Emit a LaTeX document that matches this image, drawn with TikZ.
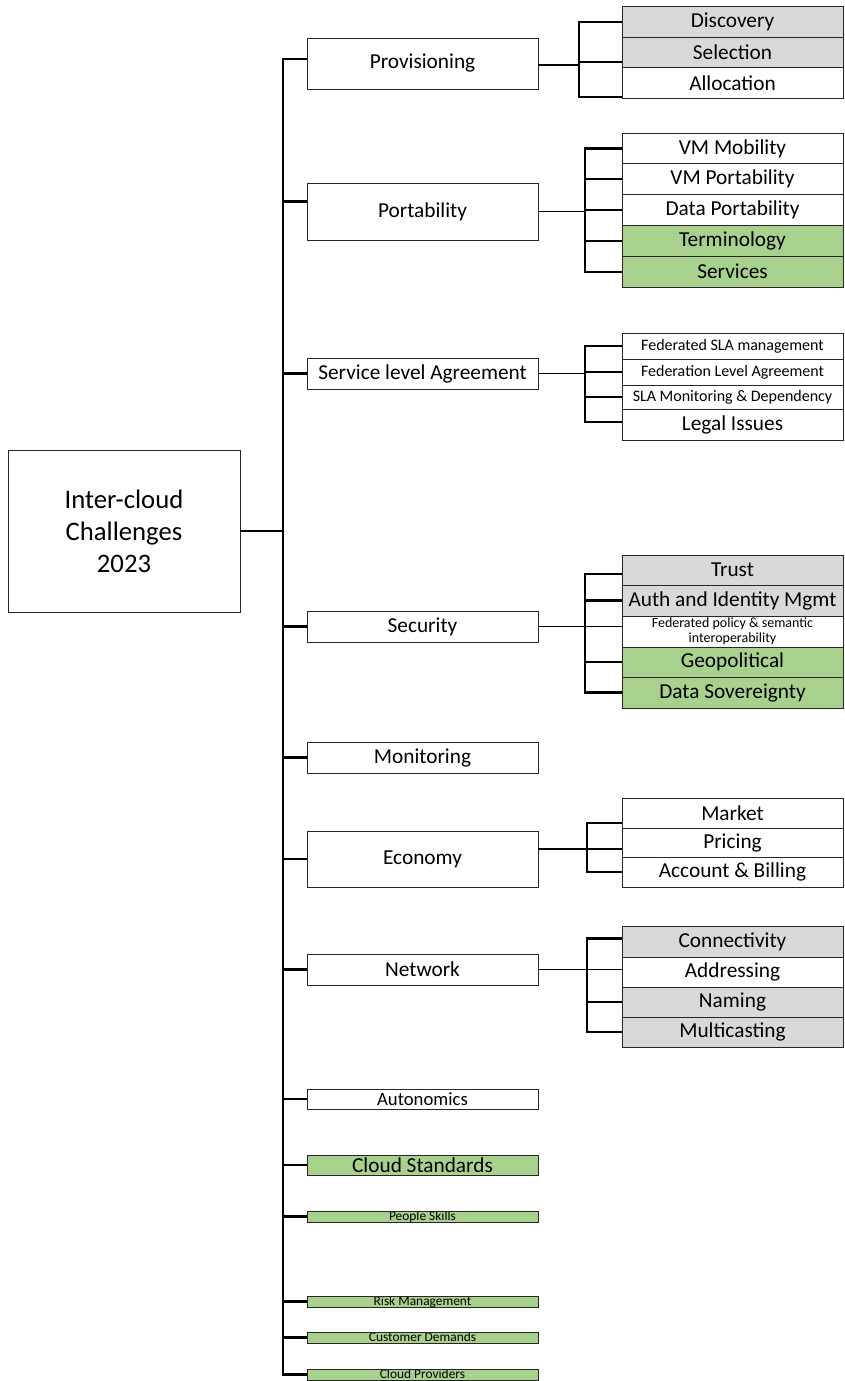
\documentclass[tikz,border=0pt]{standalone}
\usepackage{fontspec}
\setmainfont{Carlito}
\definecolor{cellgray}{HTML}{D9D9D9}
\definecolor{cellgreen}{HTML}{A9D18E}
\definecolor{edge}{HTML}{262626}

\begin{document}
\begin{tikzpicture}[x=1pt,y=-1pt,
  box/.style={draw=edge, line width=0.9pt, inner sep=0pt, rectangle, text=black, anchor=center},
  topic/.style={box, minimum width=231pt, minimum height=#1, font=\fontsize{21.3}{25}\selectfont},
  topic/.default=31pt,
  item/.style={box, minimum width=221pt, minimum height=#1, font=\fontsize{21.3}{25}\selectfont},
  item/.default=30.5pt,
  smallitem/.style={item=#1, font=\fontsize{16}{18}\selectfont},
  thin/.style={box, minimum width=231pt, minimum height=11pt, fill=cellgreen,
    path picture={\node[anchor=base, inner sep=0pt, font=\fontsize{13.4}{15}\selectfont]
      at ([yshift=1.2pt]path picture bounding box.south) {#1};}},
  grey/.style={fill=cellgray},
  green/.style={fill=cellgreen},
  stem/.style={draw=black, line width=2.2pt},
  link/.style={draw=black, line width=1.3pt},
]
\useasboundingbox (0,0) rectangle (844,1381);

% root
\node[box, minimum width=232pt, minimum height=162pt, align=center,
      font=\fontsize{26.7}{32}\selectfont] (root) at (124,531)
      {Inter-cloud\\Challenges\\2023};

% first-level topics
\node[topic=51pt] (prov) at (422.5,63.5) {Provisioning};
\node[topic=57pt] (port) at (422.5,211.5) {Portability};
\node[topic] (sla) at (422.5,373.5) {Service level Agreement};
\node[topic] (sec) at (422.5,626.5) {Security};
\node[topic] (mon) at (422.5,757.5) {Monitoring};
\node[topic=56pt] (eco) at (422.5,859) {Economy};
\node[topic] (net) at (422.5,969.5) {Network};
\node[topic=20pt, font=\fontsize{18.7}{20}\selectfont] (auto) at (422.5,1099) {Autonomics};
\node[topic=20pt, green] (std) at (422.5,1165) {Cloud Standards};
\node[thin=People Skills] (ppl) at (422.5,1216.5) {};
\node[thin=Risk Management] (risk) at (422.5,1301.5) {};
\node[thin=Customer Demands] (cust) at (422.5,1337.5) {};
\node[thin=Cloud Providers] (cprov) at (422.5,1374.5) {};

% second-level items
\node[item, grey] (disc) at (732.5,21.75) {Discovery};
\node[item, grey] (sel)  at (732.5,52.25) {Selection};
\node[item]       (alloc) at (732.5,82.75) {Allocation};

\node[item=30.8pt] (vmm) at (732.5,148.4) {VM Mobility};
\node[item=30.8pt] (vmp) at (732.5,179.2) {VM Portability};
\node[item=30.8pt] (dp)  at (732.5,210) {Data Portability};
\node[item=30.8pt, green] (term) at (732.5,240.8) {Terminology};
\node[item=30.8pt, green] (serv) at (732.5,271.6) {Services};

\node[smallitem=26pt] (fsla) at (732.5,346) {Federated SLA management};
\node[smallitem=26pt] (fla)  at (732.5,372) {Federation Level Agreement};
\node[smallitem=24pt] (slam) at (732.5,397) {SLA Monitoring \& Dependency};
\node[item=31pt] (legal) at (732.5,424.5) {Legal Issues};

\node[item=30pt, grey] (trust) at (732.5,570) {Trust};
\node[item=31pt, grey] (auth) at (732.5,600.5) {Auth and Identity Mgmt};
\node[item=31pt, align=center, font=\fontsize{14}{15}\selectfont] (fed) at (732.5,631.5)
      {Federated policy \& semantic\\interoperability};
\node[item=30pt, green] (geo) at (732.5,662) {Geopolitical};
\node[item=31pt, green] (dsov) at (732.5,692.5) {Data Sovereignty};

\node[item=30pt] (mkt) at (732.5,813) {Market};
\node[item=29pt] (price) at (732.5,842.5) {Pricing};
\node[item=30pt] (acct) at (732.5,872) {Account \& Billing};

\node[item=31pt, grey] (conn) at (732.5,941.5) {Connectivity};
\node[item=30pt] (addr) at (732.5,972) {Addressing};
\node[item=30pt, grey] (name) at (732.5,1002) {Naming};
\node[item=30pt, grey] (mcast) at (732.5,1032) {Multicasting};

% trunk
\coordinate (ttop) at (283,59);
\coordinate (tbot) at (283,1375);
\draw[link] (root.east) -- (root.east -| ttop);
\draw[stem, line cap=rect] (ttop) -- (tbot);

\coordinate (pt1) at ([yshift=4.5pt]prov.west);
\coordinate (pt2) at ([yshift=10pt]port.west);
\draw[stem] (pt1) -- (pt1 -| ttop);
\draw[stem] (pt2) -- (pt2 -| ttop);
\foreach \n in {sla,sec,mon,eco,net,auto,std,ppl,risk,cust}
  \draw[stem] (\n.west) -- (\n.west -| ttop);
\draw[stem] (cprov.west) -- (cprov.west -| tbot);

% provisioning bracket
\coordinate (pb) at (579,0);
\coordinate (pl) at ([yshift=-1.5pt]prov.east);
\coordinate (ps) at ([yshift=-9.75pt]sel.west);
\coordinate (pa) at ([yshift=-14.25pt]alloc.west);
\draw[link] (pl) -- (pl -| pb);
\draw[stem] (disc.west) -| (pa -| pb) -- (pa);
\draw[stem] (ps -| pb) -- (ps);

% portability bracket
\coordinate (qb) at (585,0);
\draw[link] (port.east) -- (port.east -| qb);
\draw[stem] (vmm.west) -| (serv.west -| qb) -- (serv.west);
\foreach \n in {vmp,dp,term} \draw[stem] (\n.west -| qb) -- (\n.west);

% agreement bracket
\draw[link] (sla.east) -- (sla.east -| qb);
\coordinate (la) at ([yshift=2.5pt]legal.west);
\draw[stem] (fsla.west) -| (la -| qb) -- (la);
\foreach \n in {fla,slam} \draw[stem] (\n.west -| qb) -- (\n.west);

% security bracket
\coordinate (st) at ([yshift=-4pt]trust.west);
\draw[link] (sec.east) -- (sec.east -| fed.west);
\draw[stem] (st) -| (dsov.west -| qb) -- (dsov.west);
\foreach \n in {auth,geo} \draw[stem] (\n.west -| qb) -- (\n.west);

% economy bracket
\coordinate (eb) at (587,0);
\coordinate (el) at ([yshift=10pt]eco.east);
\coordinate (em) at ([yshift=-10pt]mkt.west);
\draw[link] (el) -- (el -| price.west);
\draw[stem] (em) -| (acct.west -| eb) -- (acct.west);

% network bracket
\coordinate (nc) at ([yshift=3pt]conn.west);
\draw[link] (net.east) -- (net.east -| addr.west);
\draw[stem] (nc) -| (mcast.west -| eb) -- (mcast.west);
\draw[stem] (name.west -| eb) -- (name.west);
\end{tikzpicture}
\end{document}
